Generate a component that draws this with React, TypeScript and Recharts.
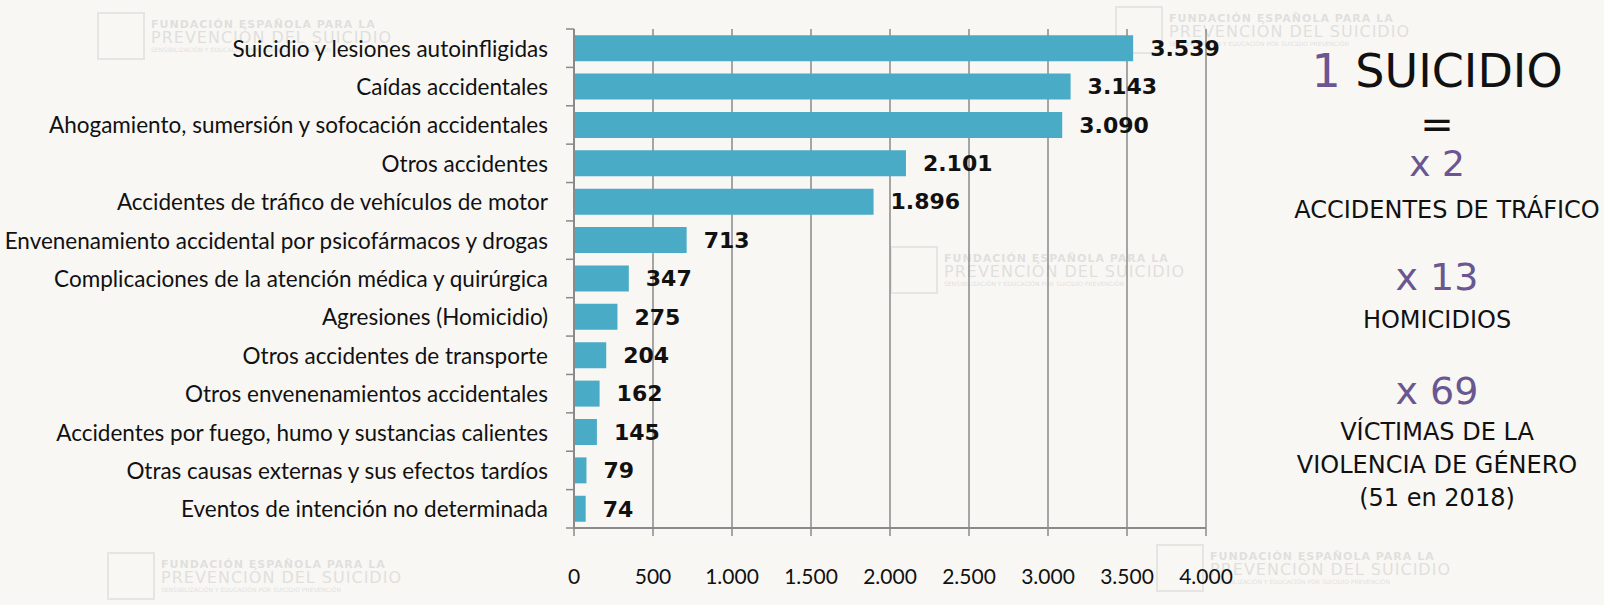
import { Bar, BarChart, CartesianGrid, LabelList, XAxis, YAxis } from 'recharts';

const categories = [
  'Suicidio y lesiones autoinfligidas',
  'Caídas accidentales',
  'Ahogamiento, sumersión y sofocación accidentales',
  'Otros accidentes',
  'Accidentes de tráfico de vehículos de motor',
  'Envenenamiento accidental por psicofármacos y drogas',
  'Complicaciones de la atención médica y quirúrgica',
  'Agresiones (Homicidio)',
  'Otros accidentes de transporte',
  'Otros envenenamientos accidentales',
  'Accidentes por fuego, humo y sustancias calientes',
  'Otras causas externas y sus efectos tardíos',
  'Eventos de intención no determinada',
];
const deaths = [3539, 3143, 3090, 2101, 1896, 713, 347, 275, 204, 162, 145, 79, 74];
const xTicks = [0, 500, 1000, 1500, 2000, 2500, 3000, 3500, 4000];

const W = 1604;
const H = 605;
const PLOT_LEFT = 574;
const PLOT_RIGHT = 1206;
const PLOT_TOP = 29;
const PLOT_BOTTOM = 528;
const BAND = (PLOT_BOTTOM - PLOT_TOP) / categories.length;

const BG = '#f8f7f4';
const BAR = '#4aabc6';
const GRID = '#8a8a8a';
const PURPLE = '#6a5690';
const LABEL_FONT = 'Lato, "Open Sans", sans-serif';
const VALUE_FONT = '"DejaVu Sans", sans-serif';
const SIDE_FONT = '"DejaVu Sans", sans-serif';

if (typeof document !== 'undefined') document.body.style.margin = '0';

/** "3539" -> "3.539" (Spanish thousands separator). */
function fmt(v: number): string {
  return String(v).replace(/\B(?=(\d{3})+(?!\d))/g, '.');
}

const rows = categories.map((name, i) => ({ name, value: deaths[i] }));

// Category label plus an Excel-style tick mark on the band boundary.
function CategoryTick(props: any) {
  const { x, y, payload, index } = props;
  const top = y - BAND / 2;
  return (
    <g>
      <line x1={PLOT_LEFT - 8} x2={PLOT_LEFT} y1={top} y2={top} stroke={GRID} strokeWidth={1.5} />
      {index === categories.length - 1 && (
        <line
          x1={PLOT_LEFT - 8}
          x2={PLOT_LEFT}
          y1={top + BAND}
          y2={top + BAND}
          stroke={GRID}
          strokeWidth={1.5}
        />
      )}
      <text
        x={x}
        y={y}
        textAnchor="end"
        dominantBaseline="central"
        fontFamily={LABEL_FONT}
        fontSize={22.5}
        fill="#111"
      >
        {payload.value}
      </text>
    </g>
  );
}

function Watermark({ left, top }: { left: number; top: number }) {
  return (
    <div
      style={{
        position: 'absolute',
        left,
        top,
        display: 'flex',
        alignItems: 'center',
        gap: 6,
        opacity: 0.18,
        color: '#777',
        fontFamily: '"DejaVu Sans", sans-serif',
        pointerEvents: 'none',
      }}
    >
      <div style={{ width: 44, height: 44, border: '2px solid #999' }} />
      <div style={{ lineHeight: 1.05 }}>
        <div style={{ fontSize: 11, fontWeight: 700, letterSpacing: 1 }}>FUNDACIÓN ESPAÑOLA PARA LA</div>
        <div style={{ fontSize: 16, letterSpacing: 1 }}>PREVENCIÓN DEL SUICIDIO</div>
        <div style={{ fontSize: 6 }}>SENSIBILIZACIÓN Y EDUCACIÓN POR SUICIDIO PREVENCIÓN</div>
      </div>
    </div>
  );
}

const sideLine = (top: number, size: number, color: string, text: React.ReactNode, shift = 0) => (
  <div
    style={{
      position: 'absolute',
      left: 1270 + shift,
      width: 334,
      top,
      textAlign: 'center',
      fontSize: size,
      lineHeight: 1,
      color,
      fontFamily: SIDE_FONT,
      whiteSpace: 'nowrap',
    }}
  >
    {text}
  </div>
);

export default function App() {
  return (
    <div style={{ position: 'relative', width: W, height: H, background: BG, overflow: 'hidden' }}>
      <Watermark left={97} top={12} />
      <Watermark left={1115} top={6} />
      <Watermark left={890} top={246} />
      <Watermark left={107} top={552} />
      <Watermark left={1156} top={544} />
      <div style={{ position: 'absolute', left: 0, top: 0 }}>
        <BarChart
          width={W}
          height={H}
          data={rows}
          layout="vertical"
          barCategoryGap="16%"
          margin={{ top: PLOT_TOP, right: W - PLOT_RIGHT, bottom: 37, left: 0 }}
        >
          <CartesianGrid horizontal={false} stroke={GRID} strokeWidth={1.5} />
          <XAxis
            type="number"
            domain={[0, 4000]}
            ticks={xTicks}
            tickFormatter={fmt}
            height={40}
            tickSize={8}
            tickMargin={33}
            axisLine={{ stroke: GRID, strokeWidth: 2 }}
            tickLine={{ stroke: GRID, strokeWidth: 1.5 }}
            tick={{ fontFamily: LABEL_FONT, fontSize: 21, fill: '#111' }}
            interval={0}
          />
          <YAxis
            type="category"
            dataKey="name"
            width={PLOT_LEFT}
            tickLine={false}
            tickSize={8}
            tickMargin={18}
            axisLine={{ stroke: GRID, strokeWidth: 2 }}
            tick={<CategoryTick />}
            interval={0}
          />
          <Bar dataKey="value" fill={BAR} isAnimationActive={false}>
            <LabelList
              dataKey="value"
              position="right"
              offset={17}
              formatter={(v: any) => fmt(Number(v))}
              style={{ fontFamily: VALUE_FONT, fontWeight: 700, fontSize: 22, fill: '#111' }}
            />
          </Bar>
        </BarChart>
      </div>
      {sideLine(48, 46, '#111', (
        <>
          <span style={{ color: PURPLE }}>1</span> SUICIDIO
        </>
      ))}
      {sideLine(104, 40, '#111', '=')}
      {sideLine(146, 36, PURPLE, 'x 2')}
      {sideLine(198, 24, '#111', 'ACCIDENTES DE TRÁFICO', 10)}
      {sideLine(258, 38, PURPLE, 'x 13')}
      {sideLine(308, 24, '#111', 'HOMICIDIOS')}
      {sideLine(372, 38, PURPLE, 'x 69')}
      {sideLine(420, 24, '#111', 'VÍCTIMAS DE LA')}
      {sideLine(453, 24, '#111', 'VIOLENCIA DE GÉNERO')}
      {sideLine(486, 24, '#111', '(51 en 2018)')}
    </div>
  );
}
